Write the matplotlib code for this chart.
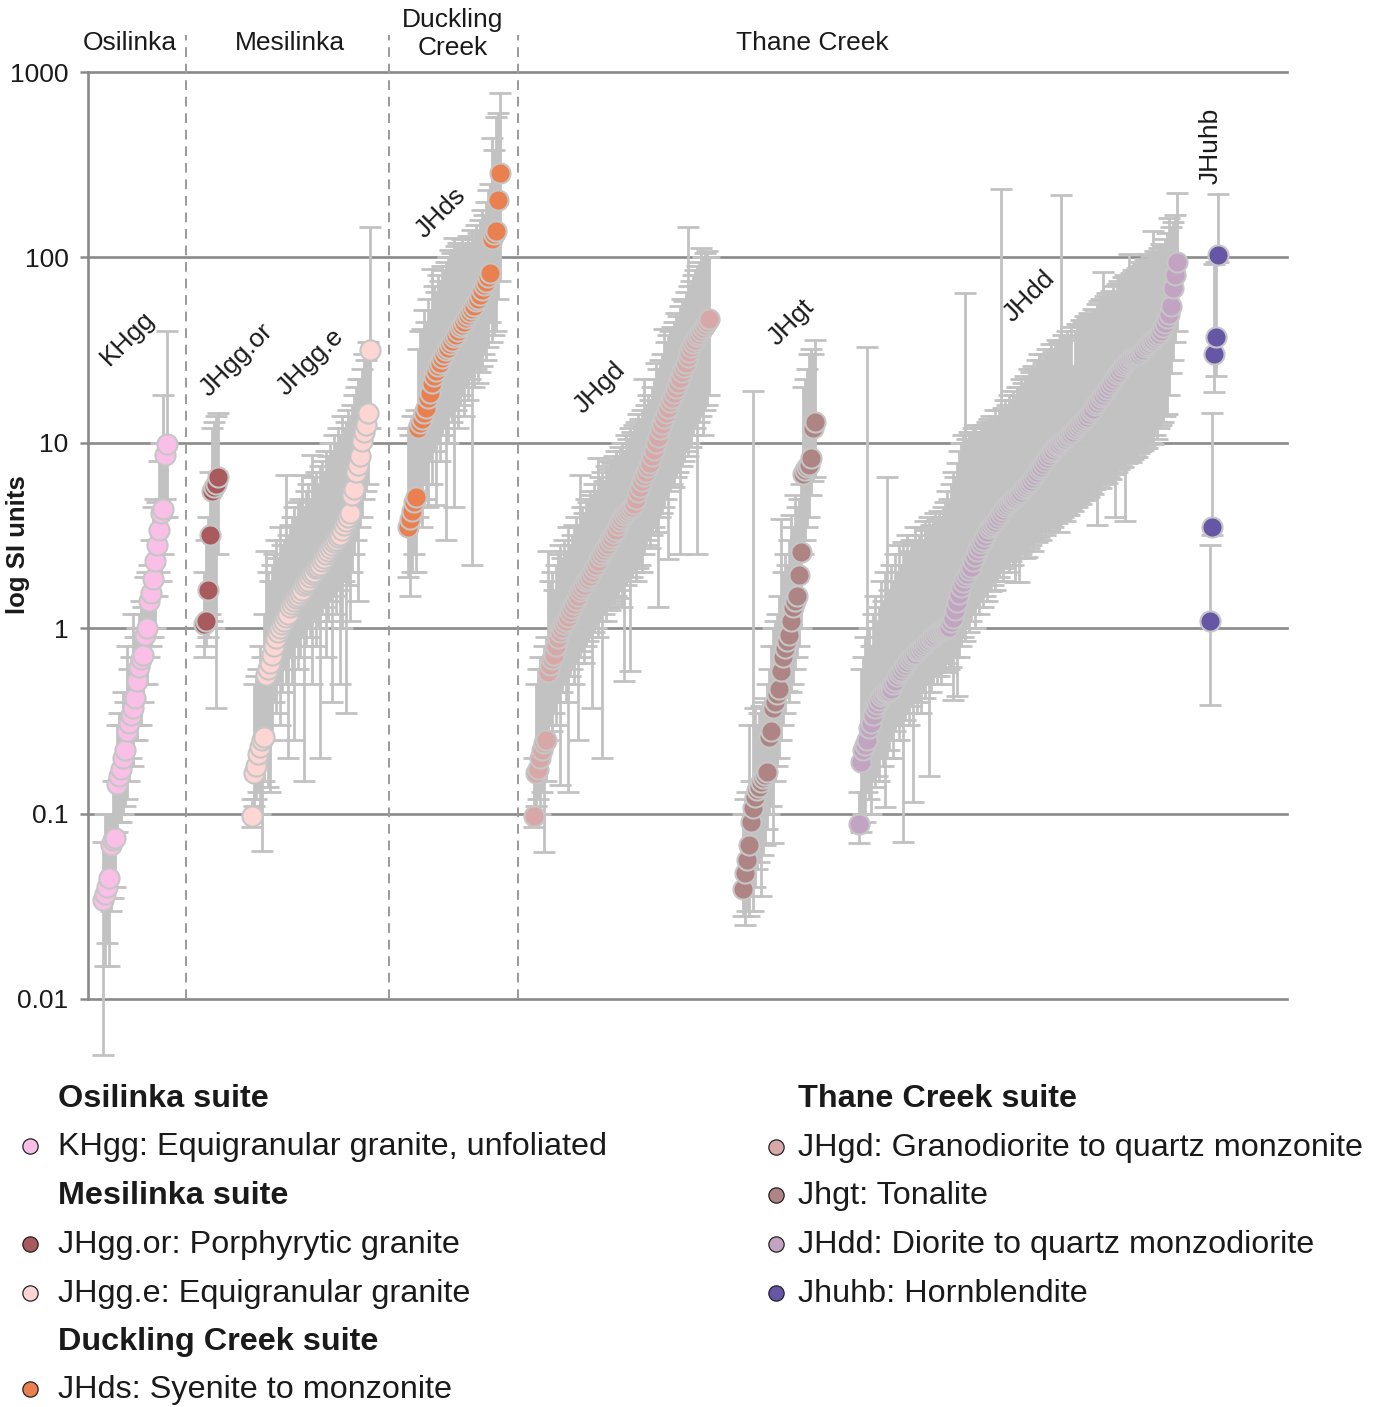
import numpy as np
import matplotlib.pyplot as plt
from matplotlib.lines import Line2D
from matplotlib.ticker import NullLocator

plt.rcParams['font.family'] = ['Liberation Sans', 'DejaVu Sans']

# sample medians (sorted) with low/high of the range, per unit

khgg_val = [0.034, 0.037, 0.040, 0.045, 0.068, 0.072, 0.074, 0.145, 0.16, 0.175,
            0.20, 0.22, 0.28, 0.31, 0.34, 0.37, 0.42, 0.52, 0.62, 0.68,
            0.72, 0.92, 1.0, 1.4, 1.55, 1.85, 2.3, 2.8, 3.4, 4.2,
            4.4, 8.6, 9.8]
khgg_hi = [0.07, 0.10, 0.10, 0.10, 0.10, 0.15, 0.15, 0.30, 0.35, 0.30,
           0.45, 0.40, 0.8, 0.6, 0.7, 1.2, 0.9, 1.0, 1.2, 1.4,
           1.3, 1.9, 2.0, 2.2, 3.0, 4.5, 5.0, 4.8, 8.0, 10.0,
           18.0, 10.0, 40.0]
khgg_lo = [0.005, 0.015, 0.02, 0.015, 0.03, 0.035, 0.04, 0.08, 0.09, 0.09,
           0.1, 0.11, 0.12, 0.15, 0.2, 0.18, 0.25, 0.25, 0.3, 0.3,
           0.4, 0.5, 0.5, 0.7, 0.8, 0.9, 1.0, 1.5, 2.0, 1.8,
           2.5, 5.0, 4.0]

jhggor_val = [1.05, 1.1, 1.6, 3.2, 5.5, 5.8, 6.0, 6.5]
jhggor_hi = [2.0, 3.0, 4.0, 7.0, 12.0, 13.0, 14.0, 14.5]
jhggor_lo = [0.7, 0.8, 0.9, 1.2, 1.1, 1.0, 0.37, 2.5]

jhgge_val = [0.097, 0.165, 0.18, 0.21, 0.23, 0.25, 0.26, 0.56, 0.60, 0.65,
             0.72, 0.80, 0.88, 0.95, 1.0, 1.05, 1.1, 1.15, 1.2, 1.3,
             1.35, 1.4, 1.45, 1.5, 1.55, 1.6, 1.7, 1.75, 1.8, 1.9,
             1.95, 2.0, 2.1, 2.15, 2.2, 2.3, 2.4, 2.5, 2.6, 2.7,
             2.8, 2.9, 3.0, 3.1, 3.2, 3.4, 3.6, 3.8, 4.0, 4.2,
             5.2, 5.6, 7.0, 7.6, 8.5, 10.2, 11.5, 12.5, 14.5, 31.5]
jhgge_hi = [0.12, 0.5, 0.55, 0.6, 0.8, 0.7, 1.2, 2.6, 2.0, 1.8,
            2.2, 2.5, 3.0, 2.4, 3.5, 2.8, 3.0, 6.7, 3.2, 3.6,
            4.0, 4.5, 4.0, 4.8, 5.0, 6.7, 4.5, 5.5, 6.0, 5.0,
            8.6, 6.5, 7.0, 6.0, 7.5, 8.0, 7.0, 9.0, 8.5, 10.0,
            9.0, 11.0, 10.0, 12.0, 11.0, 14.0, 12.0, 13.0, 15.0, 14.0,
            16.0, 18.0, 20.0, 22.0, 22.0, 25.0, 30.0, 28.0, 35.0, 145.0]
jhgge_lo = [0.085, 0.11, 0.12, 0.13, 0.1, 0.063, 0.15, 0.3, 0.14, 0.13,
            0.25, 0.4, 0.35, 0.5, 0.3, 0.45, 0.6, 0.5, 0.2, 0.7,
            0.5, 0.25, 0.8, 0.6, 0.7, 0.9, 0.15, 0.8, 1.0, 0.9,
            0.5, 1.1, 0.8, 1.0, 0.2, 1.2, 1.3, 0.7, 1.1, 1.4,
            0.4, 1.5, 1.2, 1.6, 0.5, 1.0, 1.8, 0.35, 1.7, 1.1,
            2.0, 2.5, 3.0, 1.4, 3.5, 4.0, 5.0, 5.5, 6.0, 12.0]

jhds_val = [3.5, 3.9, 4.3, 4.8, 5.1, 12.0, 12.8, 13.5, 14.5, 15.5,
            17.5, 18.5, 21.0, 23.0, 24.5, 26.0, 27.0, 28.5, 30.0, 31.5,
            32.5, 34.0, 35.5, 37.0, 38.0, 40.0, 42.0, 43.0, 45.0, 47.0,
            49.0, 51.0, 53.0, 55.0, 58.0, 60.0, 63.0, 67.0, 71.0, 74.0,
            78.0, 82.0, 125.0, 133.0, 138.0, 205.0, 287.0]
jhds_hi = [12, 11, 14, 12, 15, 32, 40, 41, 52, 45,
           60, 52, 87, 70, 65, 80, 75, 90, 85, 95,
           100, 110, 105, 128, 115, 120, 110, 125, 118, 112,
           130, 120, 140, 125, 150, 135, 160, 180, 170, 200,
           230, 250, 440, 380, 575, 600, 766]
jhds_lo = [1.9, 1.5, 2.0, 2.5, 2.0, 4.0, 5.0, 3.5, 6.0, 5.0,
           4.5, 8.0, 6.0, 9.0, 4.6, 10.0, 8.0, 11.0, 12.0, 3.0,
           10.0, 14.0, 13.0, 4.5, 15.0, 12.0, 16.0, 18.0, 14.0, 20.0,
           17.0, 22.0, 2.2, 20.0, 25.0, 21.0, 24.0, 26.0, 30.0, 28.0,
           33.0, 45.0, 35.0, 38.0, 40.0, 60.0, 75.0]

jhgd_val = [0.097, 0.165, 0.175, 0.20, 0.22, 0.24, 0.25, 0.58, 0.63, 0.68,
            0.72, 0.80, 0.88, 0.95, 1.0, 1.05, 1.1, 1.15, 1.22, 1.28,
            1.35, 1.42, 1.5, 1.58, 1.65, 1.72, 1.8, 1.85, 1.92, 2.0,
            2.1, 2.2, 2.3, 2.45, 2.55, 2.65, 2.75, 2.85, 3.0, 3.1,
            3.25, 3.4, 3.6, 3.8, 3.95, 4.1, 4.2, 4.3, 4.4, 4.5,
            4.7, 5.0, 5.4, 5.8, 6.2, 6.6, 7.0, 7.4, 7.8, 8.5,
            9.2, 10.0, 10.8, 11.8, 12.7, 13.6, 14.5, 15.5, 16.5, 17.5,
            18.6, 19.7, 21.0, 22.5, 24.0, 25.5, 27.0, 29.0, 31.0, 33.0,
            34.5, 36.0, 37.5, 38.5, 40.0, 41.5, 43.0, 45.0, 46.5]
jhgd_hi = [0.2, 0.5, 0.6, 0.7, 0.6, 0.8, 0.9, 2.6, 1.8, 2.0,
           1.6, 2.2, 2.5, 2.8, 2.4, 3.0, 2.6, 3.5, 2.8, 3.2,
           3.6, 4.0, 3.5, 6.7, 4.5, 4.2, 5.0, 4.8, 5.5, 5.2,
           6.0, 5.5, 8.3, 6.5, 7.0, 6.2, 7.5, 7.2, 8.0, 7.8,
           8.5, 9.0, 8.2, 9.5, 10.0, 9.0, 11.0, 10.5, 12.0, 11.5,
           12.5, 13.0, 14.3, 13.5, 15.0, 22.0, 16.0, 18.0, 17.0, 20.0,
           22.0, 26.8, 25.0, 28.0, 30.0, 41.0, 35.0, 38.0, 40.0, 42.0,
           45.0, 50.0, 48.0, 55.0, 60.0, 58.0, 65.0, 145.0, 70.0, 75.0,
           80.0, 85.0, 90.0, 95.0, 113.0, 100.0, 105.0, 108.0, 100.0]
jhgd_lo = [0.085, 0.11, 0.12, 0.10, 0.13, 0.062, 0.15, 0.25, 0.3, 0.28,
           0.35, 0.3, 0.4, 0.142, 0.45, 0.5, 0.4, 0.13, 0.55, 0.6,
           0.5, 0.65, 0.25, 0.7, 0.75, 0.65, 0.8, 0.85, 0.9, 0.37,
           0.95, 1.0, 0.9, 1.1, 0.2, 1.2, 1.1, 1.3, 1.25, 1.4,
           1.35, 1.5, 1.45, 1.6, 1.3, 0.52, 1.7, 1.8, 0.59, 1.9,
           2.0, 1.8, 2.1, 2.2, 2.0, 2.5, 2.8, 3.0, 2.7, 3.2,
           3.5, 3.3, 1.3, 4.0, 4.2, 4.5, 5.0, 2.35, 5.5, 6.0,
           5.8, 6.5, 7.0, 2.5, 7.5, 8.0, 9.0, 8.5, 10.0, 9.5,
           11.0, 12.0, 2.5, 13.0, 14.0, 11.0, 15.0, 16.0, 18.0]

jhgt_val = [0.039, 0.048, 0.056, 0.068, 0.09, 0.107, 0.123, 0.134, 0.14, 0.148,
            0.155, 0.162, 0.168, 0.26, 0.28, 0.37, 0.40, 0.44, 0.47, 0.59,
            0.7, 0.78, 0.85, 0.92, 1.1, 1.3, 1.4, 1.5, 1.93, 2.57,
            6.8, 7.1, 7.4, 7.6, 8.3, 12.0, 13.0]
jhgt_hi = [0.10, 0.12, 0.13, 0.3, 0.15, 19.0, 0.37, 0.3, 0.35, 0.38,
           0.4, 0.42, 0.5, 0.6, 0.8, 1.0, 1.1, 1.2, 1.5, 3.9,
           2.0, 2.5, 2.2, 3.0, 4.1, 3.5, 5.2, 4.5, 5.0, 6.0,
           20.0, 22.0, 25.0, 30.0, 32.0, 30.0, 36.0]
jhgt_lo = [0.028, 0.025, 0.03, 0.028, 0.036, 0.03, 0.04, 0.05, 0.055, 0.036,
           0.06, 0.068, 0.083, 0.1, 0.11, 0.069, 0.15, 0.18, 0.2, 0.25,
           0.3, 0.35, 0.46, 0.4, 0.45, 0.5, 0.6, 0.7, 0.8, 1.0,
           2.5, 3.0, 3.5, 4.0, 5.2, 6.2, 6.5]

jhdd_val = [0.088, 0.19, 0.22, 0.235, 0.25, 0.29, 0.31, 0.34, 0.37, 0.39,
            0.41, 0.43, 0.44, 0.45, 0.455, 0.46, 0.47, 0.5, 0.52, 0.55,
            0.57, 0.59, 0.61, 0.63, 0.66, 0.68, 0.70, 0.72, 0.73, 0.75,
            0.76, 0.78, 0.80, 0.82, 0.84, 0.86, 0.88, 0.90, 0.92, 0.94,
            0.95, 0.97, 0.98, 0.99, 1.0, 1.01, 1.08, 1.13, 1.25, 1.38,
            1.52, 1.66, 1.78, 1.88, 1.95, 2.05, 2.15, 2.3, 2.45, 2.6,
            2.75, 2.88, 3.0, 3.15, 3.3, 3.45, 3.55, 3.65, 3.75, 3.9,
            4.05, 4.2, 4.35, 4.5, 4.6, 4.75, 4.85, 4.95, 5.05, 5.15,
            5.3, 5.45, 5.6, 5.75, 5.9, 6.05, 6.25, 6.45, 6.7, 6.95,
            7.2, 7.45, 7.7, 8.0, 8.3, 8.6, 8.9, 9.2, 9.5, 9.7,
            9.9, 10.1, 10.3, 10.5, 10.75, 11.0, 11.2, 11.5, 11.8, 12.1,
            12.4, 12.8, 13.1, 13.4, 13.8, 14.3, 14.8, 15.3, 15.9, 16.4,
            17.0, 17.6, 18.2, 18.9, 19.6, 20.3, 21.0, 21.8, 22.6, 23.4,
            24.2, 25.0, 25.8, 26.5, 27.2, 27.9, 28.5, 29.0, 29.4, 29.8,
            30.3, 31.0, 31.8, 32.7, 33.6, 34.5, 35.3, 36.0, 36.8, 37.6,
            38.5, 40.0, 42.0, 44.5, 47.0, 49.5, 55.0, 68.0, 80.0, 95.0]
jhdd_hi = [0.13, 0.6, 0.7, 0.9, 33.0, 1.0, 0.8, 1.2, 1.5, 1.1,
           1.3, 1.8, 1.4, 2.0, 6.5, 1.6, 2.2, 1.8, 2.5, 2.0,
           2.8, 2.2, 2.9, 2.5, 3.2, 2.6, 3.0, 2.8, 3.5, 3.0,
           3.2, 3.5, 3.0, 3.8, 3.4, 4.0, 3.6, 3.8, 4.2, 3.9,
           4.3, 4.0, 4.5, 4.8, 5.5, 5.0, 6.0, 7.0, 6.5, 7.8,
           9.0, 10.0, 11.0, 64.0, 10.5, 11.5, 11.0, 12.0, 12.5, 11.5,
           11.0, 12.0, 12.5, 12.0, 13.0, 13.5, 14.0, 13.0, 15.0, 14.0,
           15.0, 235.0, 15.5, 17.0, 16.0, 18.0, 17.0, 19.0, 18.0, 20.0,
           20.0, 22.0, 21.0, 23.0, 22.0, 25.0, 24.0, 26.0, 25.0, 28.0,
           30.0, 28.0, 27.0, 30.0, 32.0, 29.0, 34.0, 31.0, 34.0, 36.0,
           35.0, 218.0, 38.0, 36.0, 40.0, 37.0, 42.0, 26.0, 40.0, 44.0,
           43.0, 46.0, 45.0, 48.0, 47.0, 50.0, 49.0, 53.0, 52.0, 56.0,
           58.0, 60.0, 83.0, 62.0, 64.0, 61.0, 66.0, 70.0, 65.0, 72.0,
           75.0, 72.0, 78.0, 80.0, 76.0, 104.0, 82.0, 85.0, 83.0, 88.0,
           90.0, 95.0, 92.0, 98.0, 96.0, 104.0, 102.0, 138.0, 108.0, 106.0,
           112.0, 118.0, 115.0, 125.0, 135.0, 164.0, 145.0, 155.0, 170.0, 222.0]
jhdd_lo = [0.069, 0.08, 0.1, 0.09, 0.13, 0.12, 0.1, 0.15, 0.14, 0.16,
           0.15, 0.2, 0.18, 0.108, 0.2, 0.22, 0.25, 0.2, 0.28, 0.3,
           0.25, 0.3, 0.07, 0.32, 0.35, 0.3, 0.38, 0.116, 0.4, 0.35,
           0.4, 0.35, 0.45, 0.42, 0.5, 0.16, 0.45, 0.5, 0.55, 0.5,
           0.55, 0.5, 0.6, 0.58, 0.65, 0.6, 0.62, 0.41, 0.7, 0.43,
           0.7, 0.8, 0.9, 0.85, 1.0, 0.95, 1.1, 1.2, 1.0, 1.3,
           1.2, 1.4, 1.3, 1.5, 1.4, 1.6, 1.58, 1.7, 1.6, 1.8,
           1.9, 2.0, 1.8, 2.1, 2.2, 2.0, 2.3, 2.2, 1.77, 2.4,
           1.77, 2.5, 2.6, 2.4, 2.41, 2.7, 2.8, 2.6, 3.0, 2.9,
           3.1, 3.0, 3.3, 3.2, 3.5, 3.4, 3.6, 3.5, 3.8, 3.7,
           3.29, 3.9, 4.0, 3.8, 4.2, 4.1, 4.4, 4.3, 4.6, 4.5,
           4.8, 4.7, 5.0, 4.9, 5.2, 5.1, 5.4, 5.3, 5.6, 3.6,
           5.8, 5.7, 6.0, 6.2, 6.1, 6.5, 6.4, 6.8, 4.0, 7.0,
           7.2, 7.5, 7.4, 3.8, 7.8, 8.0, 7.9, 8.2, 8.5, 8.4,
           8.8, 9.0, 9.2, 9.5, 9.4, 9.8, 10.0, 9.8, 11.0, 10.5,
           12.0, 12.5, 13.0, 14.0, 14.3, 18.0, 23.7, 28.0, 35.0, 40.0]

jhuhb_val = [1.1, 3.5, 30.0, 37.0, 103.0]
jhuhb_hi = [2.8, 14.4, 92.0, 95.0, 219.0]
jhuhb_lo = [0.385, 3.2, 18.7, 23.0, 95.0]

# name, values, low, high, colour, x of first sample
groups = [
    ('KHgg', khgg_val, khgg_lo, khgg_hi, '#f9bfe6', 7.5),
    ('JHgg.or', jhggor_val, jhggor_lo, jhggor_hi, '#a85a5c', 58),
    ('JHgg.e', jhgge_val, jhgge_lo, jhgge_hi, '#fdd6d3', 82),
    ('JHds', jhds_val, jhds_lo, jhds_hi, '#ea8050', 160),
    ('JHgd', jhgd_val, jhgd_lo, jhgd_hi, '#d8a8a8', 223),
    ('JHgt', jhgt_val, jhgt_lo, jhgt_hi, '#ae8584', 328),
    ('JHdd', jhdd_val, jhdd_lo, jhdd_hi, '#c2a4c2', 386),
    ('JHuhb', jhuhb_val, jhuhb_lo, jhuhb_hi, '#6657a6', 561.5),
]

fig = plt.figure(figsize=(13.81, 14.07), dpi=100)
ax = fig.add_axes([88 / 1381, 1 - 999 / 1407, 1199 / 1381, 927 / 1407])
ax.set_yscale('log')
ax.set_ylim(0.01, 1000)
ax.set_xlim(0, 600)

grey = '#8a8a8a'
ticks = [0.01, 0.1, 1, 10, 100, 1000]
for t in ticks:
    ax.axhline(t, color=grey, lw=1.9, zorder=1, clip_on=False)

for name, v, lo, hi, col, x0 in groups:
    v = np.array(v)
    lo = np.array(lo)
    hi = np.array(hi)
    x = x0 + np.arange(len(v))
    eb = ax.errorbar(x, v, yerr=[np.clip(v - lo, 0, None), np.clip(hi - v, 0, None)],
                     fmt='none', ecolor='#c2c2c2', elinewidth=2.0,
                     capsize=8, capthick=2.0, zorder=2)
    for a in list(eb.lines[1]) + list(eb.lines[2]):
        a.set_clip_on(False)

for name, v, lo, hi, col, x0 in groups:
    x = x0 + np.arange(len(v))
    ax.plot(x, v, 'o', ms=14.5, mfc=col, mec='#c6c6c6', mew=1.5, ls='none',
            zorder=3, clip_on=False)

# suite separators
for xs in [49, 150.5, 215]:
    ax.plot([xs, xs], [0.01, 1574], color='#9a9a9a', lw=1.4,
            ls=(0, (5, 3.5)), clip_on=False, zorder=1)

ax.set_xticks([])
ax.set_yticks(ticks)
ax.set_yticklabels(['0.01', '0.1', '1', '10', '100', '1000'])
ax.yaxis.set_minor_locator(NullLocator())
ax.tick_params(axis='y', length=6, width=1.8, color=grey, labelsize=19,
               pad=8, labelcolor='#1a1a1a')
for s in ['top', 'right', 'bottom']:
    ax.spines[s].set_visible(False)
ax.spines['left'].set_color(grey)
ax.spines['left'].set_linewidth(1.9)
ax.set_facecolor('none')

fig.text(18 / 1381, 1 - 545 / 1407, 'log SI units', rotation=90, ha='center',
         va='center', fontsize=18.5, fontweight='bold', color='#1a1a1a')

# suite names on top
top_labels = [('Osilinka', 130, 43), ('Mesilinka', 290, 43),
              ('Duckling\nCreek', 453, 34), ('Thane Creek', 812, 43)]
for txt, px, py in top_labels:
    fig.text(px / 1381, 1 - py / 1407, txt, ha='center', va='center',
             fontsize=19, color='#1a1a1a', linespacing=1.2)

# unit labels
unit_labels = [('KHgg', 20, 36.6, 45), ('JHgg.or', 74.5, 27.9, 45),
               ('JHgg.e', 111.5, 27.2, 45), ('JHds', 176.5, 175, 45),
               ('JHgd', 256, 19.7, 45), ('JHgt', 352, 44.6, 45),
               ('JHdd', 471, 61.7, 45), ('JHuhb', 562, 402, 90)]
for txt, xd, yd, rot in unit_labels:
    ax.text(xd, yd, txt, rotation=rot, ha='center', va='center',
            rotation_mode='anchor', fontsize=19, color='#1a1a1a', zorder=5)

# legend
legend_rows = [
    (58, 1099, 'Osilinka suite', None),
    (58, 1147, 'KHgg: Equigranular granite, unfoliated', '#f9bfe6'),
    (58, 1196, 'Mesilinka suite', None),
    (58, 1245, 'JHgg.or: Porphyrytic granite', '#a85a5c'),
    (58, 1294, 'JHgg.e: Equigranular granite', '#fdd6d3'),
    (58, 1342, 'Duckling Creek suite', None),
    (58, 1390, 'JHds: Syenite to monzonite', '#ea8050'),
    (798, 1099, 'Thane Creek suite', None),
    (798, 1148, 'JHgd: Granodiorite to quartz monzonite', '#d8a8a8'),
    (798, 1196, 'Jhgt: Tonalite', '#ae8584'),
    (798, 1245, 'JHdd: Diorite to quartz monzodiorite', '#c2a4c2'),
    (798, 1294, 'Jhuhb: Hornblendite', '#6657a6'),
]
for px, py, txt, col in legend_rows:
    yf = 1 - py / 1407
    if col is None:
        fig.text(px / 1381, yf, txt, ha='left', va='center', fontsize=23.3,
                 fontweight='bold', color='#1a1a1a')
    else:
        fig.text(px / 1381, yf, txt, ha='left', va='center', fontsize=23.3,
                 color='#1a1a1a')
        mx = (px - 28) / 1381 if px < 400 else (px - 22) / 1381
        fig.add_artist(Line2D([mx], [yf + 0.001], marker='o', ms=11, mfc=col,
                              mec='#222222', mew=0.9, ls='none',
                              transform=fig.transFigure))

fig.savefig('out.png', dpi=100)
